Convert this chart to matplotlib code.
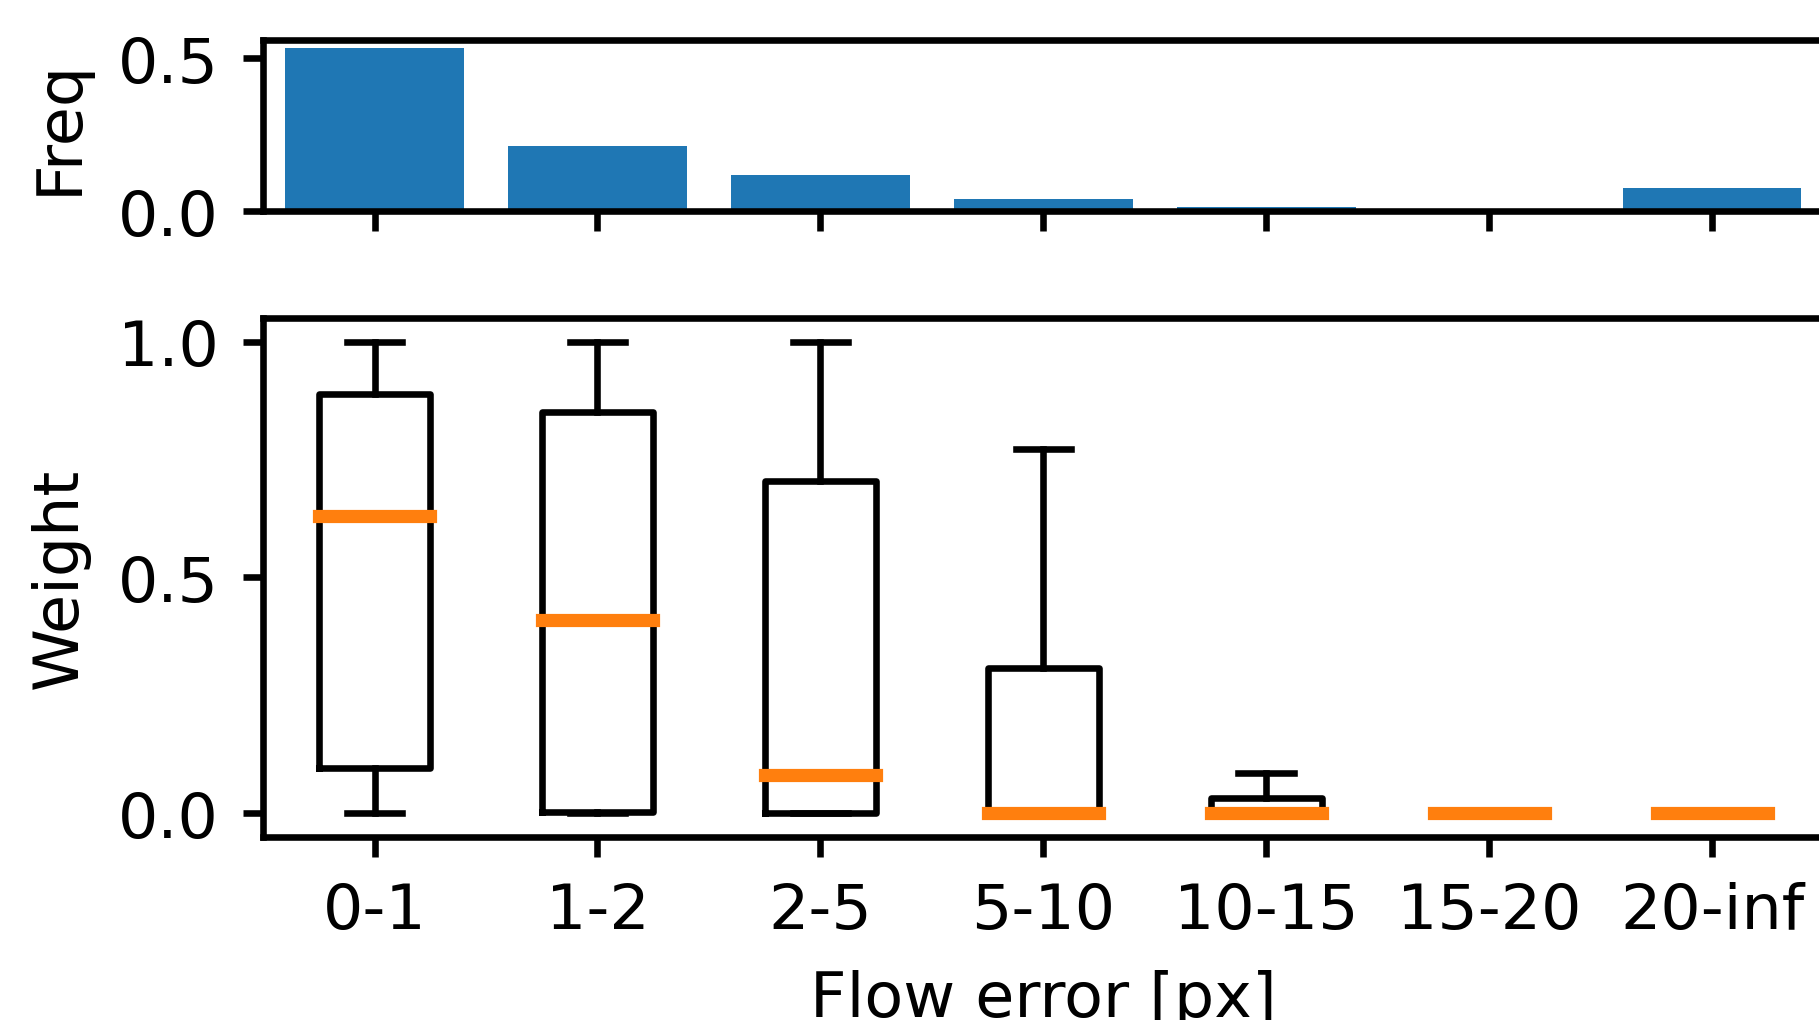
import matplotlib
matplotlib.use("Agg")
import matplotlib.pyplot as plt

# bins of flow error and the share of pixels in each
bins = ["0-1", "1-2", "2-5", "5-10", "10-15", "15-20", "20-inf"]
freq = [0.533, 0.212, 0.120, 0.040, 0.014, 0.0, 0.075]

# box statistics per bin (weights)
w_low = [0.0, 0.0, 0.0, 0.0, 0.0, 0.0, 0.0]
w_q1 = [0.096, 0.002, 0.0, 0.0, 0.0, 0.0, 0.0]
w_med = [0.631, 0.409, 0.081, 0.0, 0.0, 0.0, 0.0]
w_q3 = [0.889, 0.850, 0.704, 0.308, 0.032, 0.0, 0.0]
w_high = [1.0, 1.0, 1.0, 0.773, 0.084, 0.0, 0.0]

lw = 0.95
plt.rcParams.update({
    "font.size": 9.15,
    "axes.linewidth": lw,
    "xtick.major.width": lw,
    "ytick.major.width": lw,
    "xtick.major.size": 2.9,
    "ytick.major.size": 2.9,
})

fig = plt.figure(figsize=(1819 / 500, 1021 / 500), dpi=500)
ax_top = fig.add_axes([0.1446, 0.792, 0.858, 0.168])
ax_box = fig.add_axes([0.1446, 0.1796, 0.858, 0.508], sharex=ax_top)

pos = list(range(len(bins)))
ax_top.bar(pos, freq, width=0.8, color="#1f77b4")
ax_top.set_ylabel("Freq")
ax_top.tick_params(labelbottom=False)

stats = []
for i in range(len(bins)):
    stats.append({
        "whislo": w_low[i], "q1": w_q1[i], "med": w_med[i],
        "q3": w_q3[i], "whishi": w_high[i], "fliers": [],
    })
ax_box.bxp(stats, positions=pos, widths=0.5, showfliers=False,
           boxprops=dict(color="black", linewidth=lw),
           whiskerprops=dict(color="black", linewidth=lw),
           capprops=dict(color="black", linewidth=lw),
           medianprops=dict(color="#ff7f0e", linewidth=1.9,
                            solid_capstyle="projecting"))
ax_box.set_xlim(-0.5, len(bins) - 0.5)
ax_box.set_xticks(pos)
ax_box.set_xticklabels(bins)
ax_box.set_ylabel("Weight")
ax_box.set_xlabel("Flow error [px]")

fig.savefig("out.png", dpi=500)
